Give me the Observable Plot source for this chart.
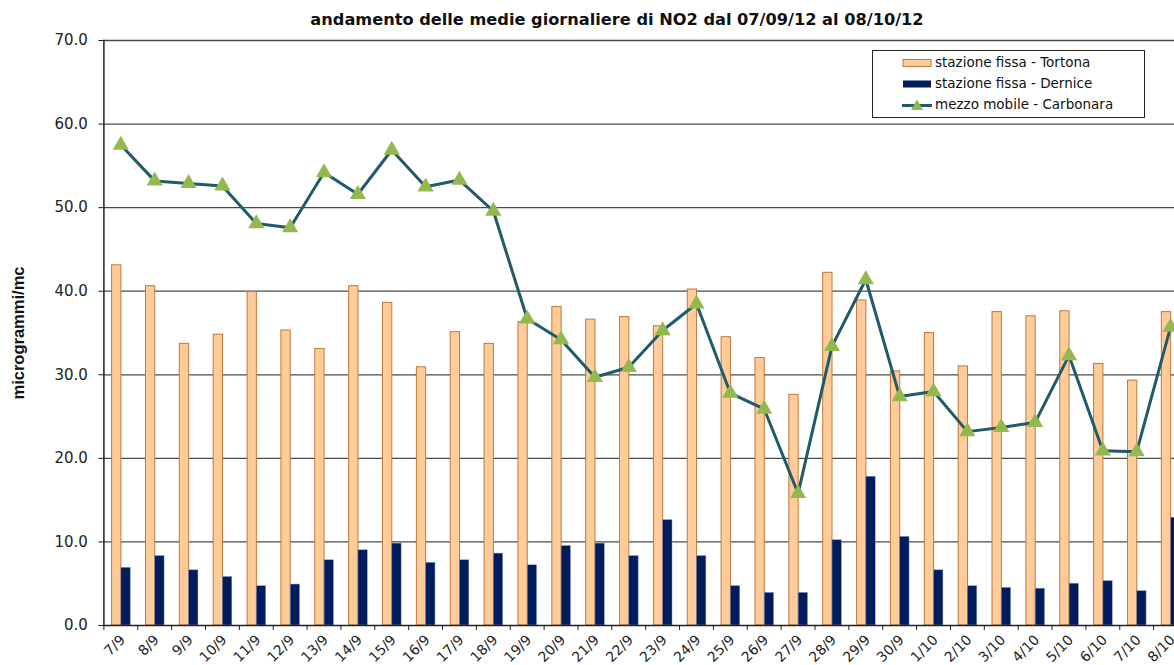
<!DOCTYPE html>
<html>
<head>
<meta charset="utf-8">
<script src="https://cdn.jsdelivr.net/npm/d3@7"></script>
<script src="https://cdn.jsdelivr.net/npm/@observablehq/plot@0.6"></script>
<style>
  html, body { margin: 0; padding: 0; background: #fff; overflow: hidden; width: 1174px; height: 665px; }
  #wrap { position: relative; width: 1200px; font-family: "DejaVu Sans", sans-serif; }
  #title { height: 30px; box-sizing: border-box; padding-top: 11px; line-height: 18px; width: 1234px; text-align: center;
           font-family: "DejaVu Sans", sans-serif; font-weight: bold; font-size: 16.2px; color: #111; }
  #legend { position: absolute; left: 872px; top: 50px; width: 273px; height: 68px; box-sizing: border-box;
            border: 1px solid #222; background: #fff; font-size: 13.5px; color: #111; padding-top: 1px; }
  .row { position: relative; height: 21px; line-height: 21px; padding-left: 62px; white-space: nowrap; }
  .row svg { position: absolute; left: 29px; top: 3.5px; }
</style>
</head>
<body>
<div id="wrap">
  <div id="title">andamento delle medie giornaliere di NO2 dal 07/09/12 al 08/10/12</div>
  <div id="chart"></div>
  <div id="legend"></div>
</div>
<script>
// ---- data ----
const days = ["7/9","8/9","9/9","10/9","11/9","12/9","13/9","14/9","15/9","16/9","17/9","18/9","19/9","20/9","21/9","22/9",
              "23/9","24/9","25/9","26/9","27/9","28/9","29/9","30/9","1/10","2/10","3/10","4/10","5/10","6/10","7/10","8/10"];
const tortona = [43.1,40.6,33.7,34.8,39.9,35.3,33.1,40.6,38.6,30.9,35.1,33.7,36.3,38.1,36.6,36.9,
                 35.8,40.2,34.5,32.0,27.6,42.2,38.9,30.4,35.0,31.0,37.5,37.0,37.6,31.3,29.3,37.5];
const dernice = [6.9,8.3,6.6,5.8,4.7,4.9,7.8,9.0,9.8,7.5,7.8,8.6,7.2,9.5,9.8,8.3,
                 12.6,8.3,4.7,3.9,3.9,10.2,17.8,10.6,6.6,4.7,4.5,4.4,5.0,5.3,4.1,12.9];
const carbonara = [57.5,53.2,52.9,52.6,48.1,47.6,54.2,51.6,56.9,52.5,53.3,49.6,36.7,34.2,29.7,30.9,
                   35.3,38.5,27.8,25.9,15.8,33.4,41.4,27.4,28.0,23.2,23.7,24.3,32.3,20.9,20.8,35.7];
const yTicks = [0,10,20,30,40,50,60,70];
const seriesNames = ["stazione fissa - Tortona","stazione fissa - Dernice","mezzo mobile - Carbonara"];
const yLabel = "microgrammi/mc";

const colTortona = "#FFCC99", colTortonaStroke = "#C0783C";
const colDernice = "#001C5C";
const colLine = "#215A69", colMarker = "#93B84E";

const rows = days.map((d, i) => ({day: d, tortona: tortona[i], dernice: dernice[i], carbonara: carbonara[i]}));

const width = 1200, marginLeft = 103.4, marginRight = 13;
const bw = (width - marginLeft - marginRight) / days.length;
const font = "DejaVu Sans, sans-serif";

const chart = Plot.plot({
  width, height: 640,
  marginTop: 10, marginBottom: 45, marginLeft, marginRight,
  style: {fontFamily: font, fontSize: "15px", color: "#222", background: "#fff"},
  x: {type: "band", domain: days, padding: 0, round: false, label: null},
  y: {domain: [0, 70], label: null},
  marks: [
    Plot.ruleY(yTicks.filter(d => d > 0), {stroke: "#4a4a4a", strokeWidth: 1.3}),
    Plot.barY(rows, {x: "day", y: "tortona", fill: colTortona, stroke: colTortonaStroke, strokeWidth: 1,
                     insetLeft: 8.2, insetRight: bw - 8.2 - 9.3}),
    Plot.barY(rows, {x: "day", y: "dernice", fill: colDernice, stroke: "#8090b8", strokeWidth: 0.5,
                     insetLeft: 17.5, insetRight: bw - 17.5 - 9.3}),
    Plot.line(rows, {x: "day", y: "carbonara", stroke: colLine, strokeWidth: 3}),
    Plot.dot(rows, {x: "day", y: "carbonara", symbol: "triangle", r: 6, fill: colMarker, stroke: "none"}),
    Plot.axisY({ticks: yTicks, tickFormat: d3.format(".1f"), tickSize: 5, tickPadding: 11, fontSize: 15, label: null, color: "#222"}),
    Plot.axisX({tickSize: 5, tickFormat: () => "", dx: -bw / 2, label: null, color: "#222"}),
    Plot.axisX({tickSize: 0, tickPadding: 12, tickRotate: -45, fontSize: 14, label: null, color: "#222", dx: 2}),
    Plot.ruleY([0], {stroke: "#222", strokeWidth: 1.5}),
    Plot.frame({anchor: "left", stroke: "#222", strokeWidth: 1.5}),
    Plot.text([yLabel], {frameAnchor: "left", dx: -85, rotate: -90, textAnchor: "middle", fontSize: 16.5, fontWeight: "bold",
                         fontFamily: "Liberation Sans, Arial, sans-serif", fill: "#111"})
  ]
});
document.getElementById("chart").appendChild(chart);

// ---- legend ----
const lg = document.getElementById("legend");
const swatches = [
  `<svg width="30" height="14"><rect x="1" y="3.5" width="28" height="7" fill="${colTortona}" stroke="${colTortonaStroke}" stroke-width="1"/></svg>`,
  `<svg width="30" height="14"><rect x="1" y="3.5" width="28" height="7" fill="${colDernice}"/></svg>`,
  `<svg width="30" height="14"><line x1="0" x2="30" y1="7.5" y2="7.5" stroke="${colLine}" stroke-width="3"/><path d="M15,1.5 L21,12 L9,12 Z" fill="${colMarker}"/></svg>`
];
seriesNames.forEach((name, i) => {
  const r = document.createElement("div");
  r.className = "row";
  r.innerHTML = swatches[i] + name;
  lg.appendChild(r);
});
</script>
</body>
</html>
